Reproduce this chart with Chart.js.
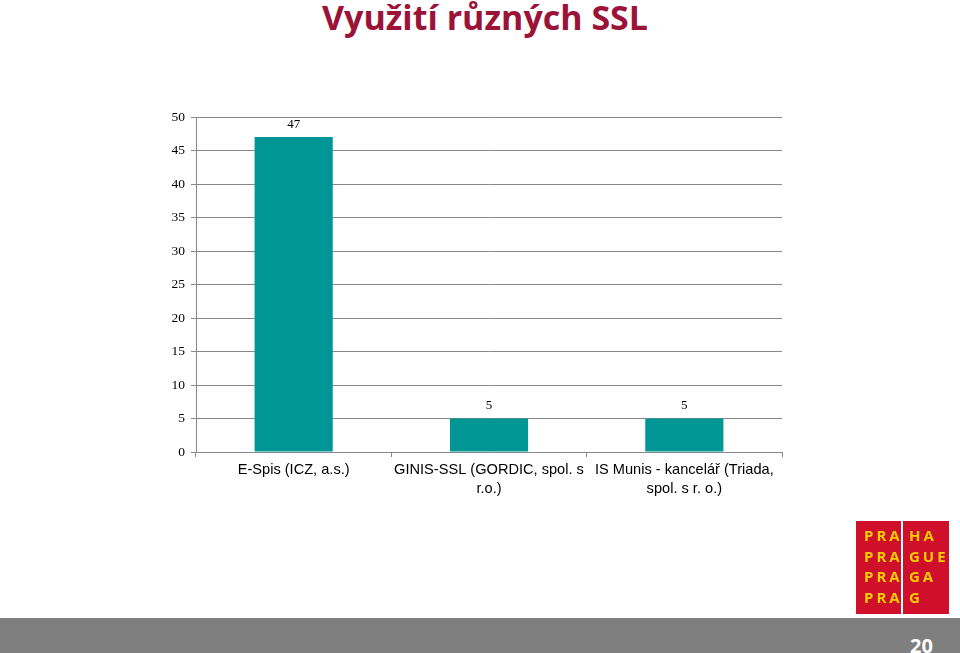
<!DOCTYPE html>
<html>
<head>
<meta charset="utf-8">
<script src="https://cdn.jsdelivr.net/npm/chart.js@4"></script>
<style>
  body { margin: 0; width: 960px; height: 653px; overflow: hidden; background: #fff; position: relative; font-family: "Open Sans", sans-serif; }
  #title { position: absolute; left: 0; width: 970px; top: -6px; text-align: center; font-size: 34px; font-weight: bold; color: #9b1438; }
  #chartBox { position: absolute; left: 0; top: 0; width: 960px; height: 653px; }
  #logo { position: absolute; left: 856px; top: 521px; width: 93px; height: 93px; }
  .half { position: absolute; top: 0; height: 93px; background: #d0102a; color: #f5cf00; font-size: 15px; font-weight: bold; letter-spacing: 3px; line-height: 20.5px; padding-top: 4px; box-sizing: border-box; }
  #footer { position: absolute; left: 0; top: 618px; width: 960px; height: 35px; background: #7f7f7f; }
  #pageNo { position: absolute; left: 910px; top: 632px; color: #fff; font-size: 20px; font-weight: bold; }
</style>
</head>
<body>
<div id="title">Využití různých SSL</div>
<div id="chartBox"><canvas id="sslChart" width="960" height="653"></canvas></div>
<div id="logo">
  <div class="half" style="left:0;width:45px;padding-left:8px;">PRA<br>PRA<br>PRA<br>PRA</div>
  <div class="half" style="left:47px;width:46px;padding-left:6px;">HA<br>GUE<br>GA<br>G</div>
</div>
<div id="footer"></div>
<div id="pageNo">20</div>
<script>
const categories = [
    "E-Spis (ICZ, a.s.)",
    ["GINIS-SSL (GORDIC, spol. s", "r.o.)"],
    ["IS Munis - kancelář (Triada,", "spol. s r. o.)"]
];
const counts = [47, 5, 5];
const yTicks = [0, 5, 10, 15, 20, 25, 30, 35, 40, 45, 50];

const valueLabels = {
    id: "valueLabels",
    afterDatasetsDraw(chart) {
        const ctx = chart.ctx;
        ctx.save();
        ctx.font = "13px 'Liberation Serif'";
        ctx.fillStyle = "#000";
        ctx.textAlign = "center";
        ctx.textBaseline = "bottom";
        chart.getDatasetMeta(0).data.forEach((bar, i) => {
            ctx.fillText(counts[i], bar.x, bar.y - 6);
        });
        ctx.restore();
    }
};

new Chart(document.getElementById("sslChart").getContext("2d"), {
    type: "bar",
    data: {
        labels: categories,
        datasets: [{
            data: counts,
            backgroundColor: "#009695",
            categoryPercentage: 0.4,
            barPercentage: 1
        }]
    },
    options: {
        responsive: false,
        animation: false,
        layout: { padding: { left: 150, right: 178, top: 117, bottom: 153 } },
        plugins: { legend: { display: false }, tooltip: { enabled: false } },
        scales: {
            x: {
                offset: true,
                grid: { offset: true, drawOnChartArea: false, tickLength: 5, color: "#888" },
                border: { color: "#888" },
                ticks: { color: "#000", font: { family: "'Liberation Sans'", size: 14.6, lineHeight: 1.3 }, maxRotation: 0, autoSkip: false, padding: 3 },
                afterFit(scale) { scale.height = 48; }
            },
            y: {
                min: 0,
                max: 50,
                afterBuildTicks(scale) { scale.ticks = yTicks.map(v => ({ value: v })); },
                grid: { color: "#888", tickLength: 5 },
                border: { color: "#888" },
                ticks: { color: "#000", font: { family: "'Liberation Serif'", size: 13.5 }, padding: 6 },
                afterFit(scale) { scale.width = 46; }
            }
        }
    },
    plugins: [valueLabels]
});
</script>
</body>
</html>
